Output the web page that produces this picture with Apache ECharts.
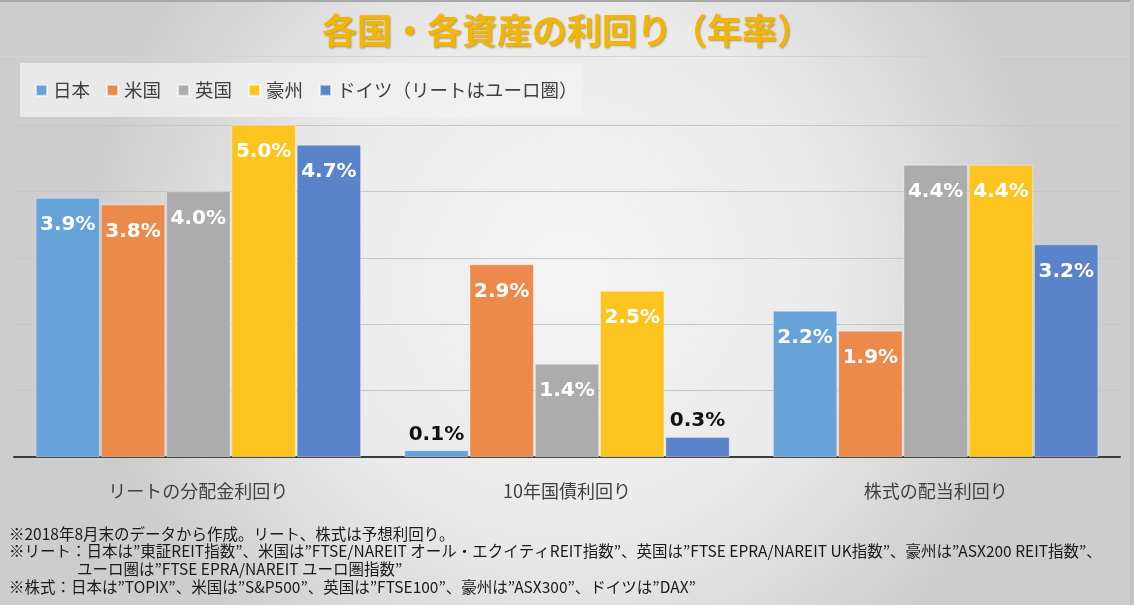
<!DOCTYPE html>
<html>
<head>
<meta charset="utf-8">
<script src="https://cdn.jsdelivr.net/npm/echarts@6/dist/echarts.min.js"></script>
<style>
html,body{margin:0;padding:0;}
#c{width:1134px;height:605px;}
</style>
</head>
<body>
<div id="c"></div>
<script>
const titleText = '各国・各資産の利回り（年率）';
const categories = ['リートの分配金利回り', '10年国債利回り', '株式の配当利回り'];
const seriesNames = ['日本', '米国', '英国', '豪州', 'ドイツ（リートはユーロ圏）'];
const japan = [3.9, 0.1, 2.2];
const usa = [3.8, 2.9, 1.9];
const uk = [4.0, 1.4, 4.4];
const australia = [5.0, 2.5, 4.4];
const germany = [4.7, 0.3, 3.2];
const yTicks = [0, 1, 2, 3, 4, 5];
const footnotes = [
  '※2018年8月末のデータから作成。リート、株式は予想利回り。',
  '※リート：日本は”東証REIT指数”、米国は”FTSE/NAREIT オール・エクイティREIT指数”、英国は”FTSE EPRA/NAREIT UK指数”、豪州は”ASX200 REIT指数”、',
  'ユーロ圏は”FTSE EPRA/NAREIT ユーロ圏指数”',
  '※株式：日本は”TOPIX”、米国は”S&P500”、英国は”FTSE100”、豪州は”ASX300”、ドイツは”DAX”'
];

const colors = ['#67a3d8', '#eb8a4b', '#acacac', '#fcc41f', '#5b83c9'];
const seriesData = [japan, usa, uk, australia, germany];

const chart = echarts.init(document.getElementById('c'), null, {renderer: 'canvas'});

function buildData(arr) {
  return arr.map(v => {
    if (v < 0.5) {
      return {value: v, label: {position: 'top', distance: 6, color: '#111'}};
    }
    return {value: v};
  });
}

const fnFont = '15.5px "Noto Sans CJK JP"';

const option = {
  animation: false,
  color: colors,
  graphic: [
    {type: 'rect', z: -10, shape: {x: 0, y: 0, width: 1134, height: 605},
      style: {fill: new echarts.graphic.RadialGradient(0.5, 0.45, 0.8, [
        {offset: 0, color: '#f4f4f4'},
        {offset: 0.55, color: '#eaeaea'},
        {offset: 1, color: '#cdcdcd'}
      ])}, silent: true},
    {type: 'rect', z: -9, shape: {x: 0, y: 0, width: 1134, height: 2}, style: {fill: '#a8a8a8'}, silent: true},
    {type: 'rect', z: -9, shape: {x: 0, y: 56, width: 1134, height: 1}, style: {fill: '#d2d2d2'}, silent: true},
    {type: 'rect', z: -9, shape: {x: 1130, y: 0, width: 4, height: 605}, style: {fill: '#c4c4c4'}, silent: true},
    {type: 'rect', z: -8, shape: {x: 20, y: 63, width: 563, height: 54}, style: {fill: 'rgba(242,242,242,0.75)'}, silent: true},
    {type: 'text', left: 9, top: 526, style: {text: footnotes[0], font: fnFont, fill: '#1a1a1a'}},
    {type: 'text', left: 9, top: 543, style: {text: footnotes[1], font: fnFont, fill: '#1a1a1a'}},
    {type: 'text', left: 77, top: 561, style: {text: footnotes[2], font: fnFont, fill: '#1a1a1a'}},
    {type: 'text', left: 9, top: 579, style: {text: footnotes[3], font: fnFont, fill: '#1a1a1a'}}
  ],
  title: {
    text: titleText,
    left: 'center',
    top: 8,
    textStyle: {
      fontFamily: '"Noto Sans CJK JP"',
      fontSize: 35,
      fontWeight: 'bold',
      color: '#f2b600',
      textShadowColor: 'rgba(120,80,0,0.55)',
      textShadowBlur: 2,
      textShadowOffsetX: 1,
      textShadowOffsetY: 1
    }
  },
  legend: {
    left: 30,
    top: 76,
    itemWidth: 11,
    itemHeight: 11,
    itemGap: 16,
    icon: 'rect',
    textStyle: {fontFamily: '"Noto Sans CJK JP"', fontSize: 18.5, color: '#404040', padding: [0, 0, 0, 1]},
    data: seriesNames
  },
  grid: {left: 14, right: 14, top: 125, bottom: 148, containLabel: false},
  xAxis: {
    type: 'category',
    data: categories,
    axisLine: {lineStyle: {color: '#3c3c3c', width: 2}},
    axisTick: {show: false},
    axisLabel: {fontFamily: '"Noto Sans CJK JP"', fontSize: 18, color: '#404040', margin: 25}
  },
  yAxis: {
    type: 'value',
    min: yTicks[0],
    max: yTicks[yTicks.length - 1],
    interval: 1,
    axisLabel: {show: false},
    axisLine: {show: false},
    axisTick: {show: false},
    splitLine: {lineStyle: {color: '#c6c6c6', width: 1}}
  },
  series: seriesNames.map((name, i) => ({
    name: name,
    type: 'bar',
    barWidth: 64,
    barGap: '2%',
    data: buildData(seriesData[i]),
    itemStyle: {color: colors[i], borderColor: 'rgba(255,255,255,0.6)', borderWidth: 0.6},
    label: {
      show: true,
      position: 'insideTop',
      distance: 17,
      fontFamily: '"DejaVu Sans"',
      fontWeight: 'bold',
      fontSize: 20,
      color: '#ffffff',
      formatter: p => p.value.toFixed(1) + '%'
    }
  }))
};
chart.setOption(option);
</script>
</body>
</html>
